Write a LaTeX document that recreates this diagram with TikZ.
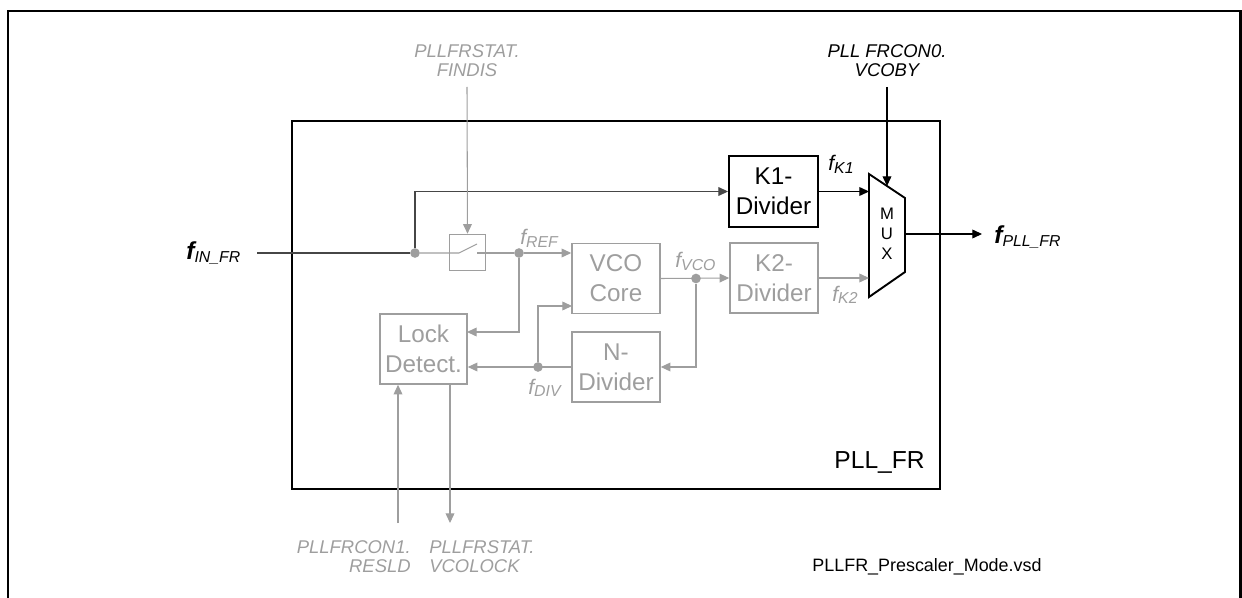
\documentclass[tikz,border=0pt]{standalone}
\usepackage{fontspec}
\setmainfont{Liberation Sans}
\usetikzlibrary{arrows.meta}

\definecolor{lgray}{RGB}{158,158,158}
\definecolor{dgray}{RGB}{70,70,70}

\newcommand{\fsig}[1]{{\fontsize{12}{12}\selectfont\itshape f}\raisebox{-0.25ex}{\fontsize{9}{9}\selectfont\itshape #1}}
\newcommand{\fbig}[1]{{\fontsize{14}{14}\selectfont\bfseries\itshape f}\raisebox{-0.4ex}{\fontsize{9}{10}\selectfont\itshape #1}}

\begin{document}
\begin{tikzpicture}[x=0.02cm, y=-0.02cm, >={Triangle[length=5.5pt,width=5pt]},
    gline/.style={draw=lgray, line width=0.6pt},
    garr/.style={gline, ->},
    dline/.style={draw=dgray, line width=0.6pt},
    darr/.style={dline, ->},
    barr/.style={draw=black, line width=0.6pt, ->},
    gbox/.style={draw=lgray, line width=0.9pt, text=lgray, minimum width=1.76cm,
        minimum height=1.4cm, align=center, inner sep=0pt,
        font=\fontsize{13.8}{17}\selectfont},
    bbox/.style={gbox, draw=black, text=black, line width=1.1pt},
    dot/.style={circle, fill=lgray, inner sep=0pt, minimum size=5.5pt},
    glabel/.style={text=lgray, inner sep=0pt, font=\fontsize{10.5}{10.8}\selectfont\itshape},
    blabel/.style={glabel, text=black},
    sig/.style={inner sep=0pt, anchor=base west}]

% ═══════════════════════════════════════════════════════
% FRAME
% ═══════════════════════════════════════════════════════

\useasboundingbox (0,0) rectangle (1242,598);
\draw[line width=1.4pt] (8,598) -- (8,11) -- (1240.5,11) -- (1240.5,598);

% ═══════════════════════════════════════════════════════
% PLL_FR BLOCK
% ═══════════════════════════════════════════════════════

\node[draw, line width=1.2pt, minimum width=12.96cm, minimum height=7.36cm,
      inner sep=0pt] (pll) at (616,305) {};
\node[anchor=east, inner sep=0pt, font=\fontsize{14}{14}\selectfont]
    (pllname) at (925,462) {PLL\_FR};

% boxes
\node[bbox, minimum width=1.78cm, minimum height=1.42cm] (k1) at (773.5,191.5) {K1-\\Divider};
\node[gbox] (vco) at (616,278.5) {VCO\\Core};
\node[gbox] (k2) at (774,278) {K2-\\Divider};
\node[gbox] (ndiv) at (616,367) {N-\\Divider};
\node[gbox, minimum width=1.74cm] (lock) at (423.5,349) {Lock\\Detect.};

% switch
\node[draw=lgray, line width=0.9pt, minimum size=0.72cm, inner sep=0pt] (sw) at (467.5,252.5) {};

% MUX
\coordinate (muxtl) at (869,174);
\coordinate (muxtr) at (905,198);
\coordinate (muxbr) at (905,272);
\coordinate (muxbl) at (869,297);
\draw[line width=1.1pt] (muxtl) -- (muxtr) -- (muxbr) -- (muxbl) -- cycle;
\node[align=center, inner sep=0pt, font=\fontsize{9.5}{11.4}\selectfont]
    (mux) at (887,234) {M\\U\\X};

% junction dots
\node[dot] (jin) at (415,253) {};
\node[dot] (jref) at (519,253) {};
\node[dot] (jvco) at (696,278.5) {};
\node[dot] (jdiv) at (538,367) {};

% ═══════════════════════════════════════════════════════
% LABELS
% ═══════════════════════════════════════════════════════

\node[glabel, align=center] (findis) at (467,61) {PLLFRSTAT.\\FINDIS};
\node[blabel, align=center] (vcoby) at (887,61) {PLL FRCON0.\\VCOBY};
\node[glabel, align=right, anchor=east] (resld) at (411,557) {PLLFRCON1.\\RESLD};
\node[glabel, align=left, anchor=west] (vcolock) at (429,557) {PLLFRSTAT.\\VCOLOCK};

\node[sig] (fin) at (186,259) {\fbig{IN\_FR}};
\node[sig] (fpll) at (994,243) {\fbig{PLL\_FR}};
\node[sig, text=lgray] (fref) at (520,245) {\fsig{REF}};
\node[sig, text=lgray] (fvco) at (675,268) {\fsig{VCO}};
\node[sig, text=lgray] (fdiv) at (528,394) {\fsig{DIV}};
\node[sig] (fk1) at (828,171) {\fsig{K1}};
\node[sig, text=lgray] (fk2) at (832,301) {\fsig{K2}};

\node[inner sep=0pt, font=\fontsize{10.2}{10}\selectfont]
    (vsd) at (927,567) {PLLFR\_Prescaler\_Mode.vsd};

% ═══════════════════════════════════════════════════════
% CONNECTIONS
% ═══════════════════════════════════════════════════════

\coordinate (inA) at (257,253);
\coordinate (swa) at (459,253);
\coordinate (swb) at (477,244);
\coordinate (swc) at (477,253);
\coordinate (lockin) at (467,332);
\coordinate (vcoin) at (572,306);
\coordinate (findisIn) at (467,87);
\coordinate (vcobyIn) at (887,87);
\coordinate (muxsel) at (887,186);
\coordinate (resldIn) at (398,523);
\coordinate (vcolockOut) at (450,523);
\coordinate (pllOut) at (982,234);

% input -> K1 / switch
\draw[dline] (inA) -- (jin);
\draw[darr] (jin) |- (k1.west);
\draw[gline] (jin) -- (swa) -- (swb);
\draw[gline] (swc) -- (jref);
\draw[garr] (findisIn) -- (sw.north);

% loop
\draw[garr] (jref) -- (vco.west |- jref);
\draw[garr] (jref) |- (lockin);
\draw[garr] (jdiv) |- (vcoin);
\draw[garr] (ndiv.west) -- (lock.east |- ndiv.west);
\draw[garr] (vco.east) -- (k2.west);
\draw[garr] (jvco) |- (ndiv.east);

% to MUX and out
\draw[garr] (k2.east) -- (k2.east -| muxbl);
\draw[barr] (k1.east) -- (k1.east -| muxtl);
\draw[barr] (vcobyIn) -- (muxsel);
\draw[barr] (muxtr |- mux) -- (pllOut);

% lock detect
\draw[garr] (resldIn) -- (resldIn |- lock.south);
\draw[garr] (vcolockOut |- lock.south) -- (vcolockOut);

\end{tikzpicture}
\end{document}
